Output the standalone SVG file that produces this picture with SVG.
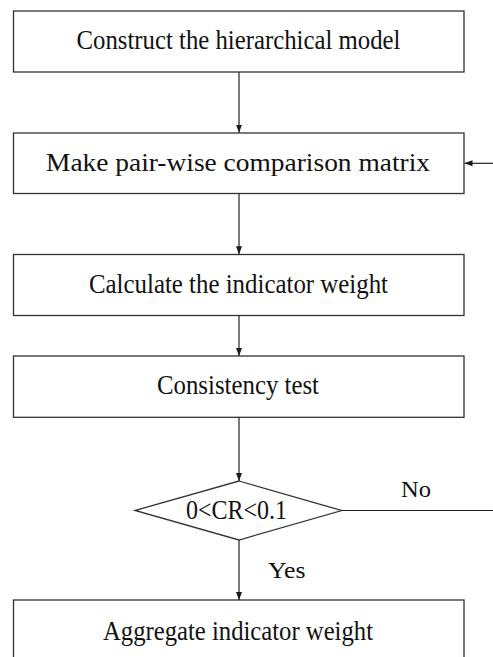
<svg xmlns="http://www.w3.org/2000/svg" width="493" height="657" viewBox="0 0 493 657">
<defs>
<marker id="ah" markerWidth="8" markerHeight="8" viewBox="0 0 8 8" refX="8" refY="4" orient="auto" markerUnits="userSpaceOnUse">
<path d="M0,1 L8,4 L0,7 Z" fill="#1a1a1a"/>
</marker>
<style>
.box{fill:#fff;stroke:#333;stroke-width:1.3}
.t{font-family:"Liberation Serif","Times New Roman",serif;font-size:26.5px;fill:#111;text-anchor:middle}
.t2{font-family:"Liberation Serif","Times New Roman",serif;font-size:25px;fill:#111;text-anchor:middle}
.lbl{font-family:"Liberation Serif","Times New Roman",serif;font-size:24px;fill:#111}
.c{stroke:#222;stroke-width:1.2;fill:none;marker-end:url(#ah)}
.l{stroke:#222;stroke-width:1.2;fill:none}
</style>
</defs>
<rect width="493" height="657" fill="#fff"/>
<g id="n1"><rect class="box" x="13.5" y="11" width="450.5" height="61"/><text class="t" x="238.5" y="49.3" textLength="324" lengthAdjust="spacingAndGlyphs">Construct the hierarchical model</text></g>
<g id="n2"><rect class="box" x="13.5" y="133" width="450.5" height="60.5"/><text class="t2" x="238" y="171" textLength="384" lengthAdjust="spacingAndGlyphs">Make pair-wise comparison matrix</text></g>
<g id="n3"><rect class="box" x="13.5" y="254.5" width="450.5" height="61"/><text class="t" x="238.5" y="293.3" textLength="299" lengthAdjust="spacingAndGlyphs">Calculate the indicator weight</text></g>
<g id="n4"><rect class="box" x="13.5" y="356" width="450.5" height="61.3"/><text class="t" x="238" y="394.3" textLength="162" lengthAdjust="spacingAndGlyphs">Consistency test</text></g>
<g id="n5"><polygon class="box" points="239,481 341.7,510.5 239,540 135,510.5"/><text class="t" x="236.5" y="519.3" textLength="101" lengthAdjust="spacingAndGlyphs">0&lt;CR&lt;0.1</text></g>
<g id="n6"><rect class="box" x="13.5" y="600" width="450.5" height="80"/><text class="t" x="238" y="640" textLength="270" lengthAdjust="spacingAndGlyphs">Aggregate indicator weight</text></g>
<g id="connectors">
<line class="c" x1="239" y1="72" x2="239" y2="132.7"/>
<line class="c" x1="239" y1="193.5" x2="239" y2="254.3"/>
<line class="c" x1="239" y1="315.5" x2="239" y2="356"/>
<line class="c" x1="239" y1="417.3" x2="239" y2="481"/>
<line class="c" x1="239" y1="540" x2="239" y2="600"/>
<line class="l" x1="341.7" y1="510.5" x2="493" y2="510.5"/>
<line class="c" x1="493" y1="163.3" x2="464.5" y2="163.3"/>
<text class="lbl" x="401" y="497.3" textLength="30" lengthAdjust="spacingAndGlyphs">No</text>
<text class="lbl" x="268" y="578.3" textLength="37.5" lengthAdjust="spacingAndGlyphs">Yes</text>
</g>
</svg>
